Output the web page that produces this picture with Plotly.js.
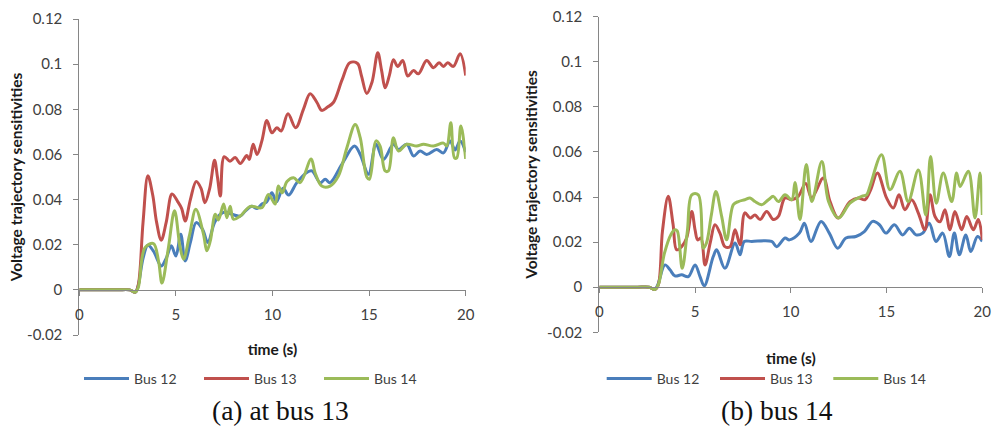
<!DOCTYPE html>
<html>
<head>
<meta charset="utf-8">
<script src="https://cdn.plot.ly/plotly-3.0.1.min.js"></script>
<style>html,body{margin:0;padding:0;background:#fff;}#chart{width:992px;height:428px;}</style>
</head>
<body>
<div id="chart"></div>
<script>
// ---- Data ----
var seriesNames = ["Bus 12", "Bus 13", "Bus 14"];
var seriesColors = ["#4A7EBB", "#C0504D", "#9BBB59"];
var xTickVals = [0, 5, 10, 15, 20];
var yTickVals = [-0.02, 0, 0.02, 0.04, 0.06, 0.08, 0.1, 0.12];
var yTickText = ["-0.02", "0", "0.02", "0.04", "0.06", "0.08", "0.1", "0.12"];
var panelCaptions = ["(a) at bus 13", "(b) bus 14"];
var xTitleText = "time (s)";
var yTitleText = "Voltage trajectory sensitivities";

// Panel (a): at bus 13
var tA12 = [0,1,2,2.6,2.9,3.05,3.3,3.55,3.85,4.24,4.5,4.76,5.0,5.25,5.48,5.75,6.05,6.38,6.65,7.0,7.3,7.55,7.9,8.33,8.6,8.93,9.2,9.45,9.7,9.97,10.2,10.55,10.83,11.26,11.78,12.04,12.47,12.73,12.98,13.59,14.24,14.54,14.97,15.36,15.74,16.26,16.52,16.95,17.3,17.64,17.98,18.5,18.85,19.19,19.45,19.71,20];
var vA12 = [0,0,0,0,-0.001,0.002,0.014,0.0198,0.017,0.0106,0.014,0.0195,0.015,0.0246,0.0128,0.021,0.0298,0.0268,0.021,0.0298,0.0335,0.0345,0.0335,0.0327,0.035,0.037,0.036,0.038,0.039,0.043,0.039,0.045,0.042,0.0475,0.052,0.0527,0.0475,0.049,0.0475,0.0556,0.0637,0.060,0.0512,0.0645,0.0578,0.0645,0.0622,0.0645,0.0593,0.0615,0.060,0.0622,0.0607,0.066,0.062,0.066,0.061];

var tA13 = [0,1,2,2.6,2.9,3.05,3.3,3.55,3.8,4.0,4.24,4.5,4.8,5.1,5.3,5.48,5.75,6.05,6.3,6.5,6.75,7.0,7.15,7.3,7.5,7.8,8.07,8.33,8.67,8.8,9.0,9.2,9.45,9.71,9.97,10.23,10.45,10.8,11.2,11.6,11.95,12.3,12.55,12.85,13.15,13.6,14.0,14.4,14.6,14.88,15.15,15.45,15.65,15.83,16.05,16.26,16.48,16.74,17.0,17.3,17.55,17.98,18.33,18.62,18.85,19.07,19.36,19.71,20];
var vA13 = [0,0,0,0,-0.001,0.002,0.03,0.0505,0.042,0.03,0.022,0.03,0.0425,0.039,0.036,0.0305,0.04,0.048,0.045,0.0386,0.045,0.0574,0.05,0.0416,0.059,0.057,0.0586,0.056,0.0595,0.0578,0.0645,0.06,0.066,0.075,0.0696,0.0718,0.0704,0.078,0.0718,0.08,0.0869,0.083,0.0795,0.081,0.083,0.093,0.1006,0.1003,0.095,0.087,0.092,0.105,0.097,0.0895,0.095,0.102,0.099,0.1016,0.0947,0.0972,0.0957,0.1016,0.0984,0.1006,0.099,0.1006,0.099,0.1046,0.095];

var tA14 = [0,1,2,2.6,2.9,3.05,3.4,3.84,4.1,4.28,4.6,4.93,5.22,5.4,5.7,6.03,6.43,6.6,6.78,7.04,7.2,7.47,7.64,7.81,7.98,8.33,8.85,9.45,9.79,10.14,10.3,10.5,10.75,11.09,11.43,12.0,12.2,12.55,12.98,13.41,13.85,14.28,14.54,14.88,15.02,15.36,15.57,15.83,16.0,16.26,16.52,16.95,17.46,17.81,18.33,18.85,19.02,19.23,19.42,19.54,19.75,20];
var vA14 = [0,0,0,0,-0.001,0.001,0.0187,0.0205,0.0128,0.003,0.018,0.035,0.0187,0.0136,0.024,0.0357,0.0246,0.0173,0.0217,0.0335,0.031,0.038,0.032,0.037,0.0313,0.0327,0.037,0.0364,0.0423,0.038,0.046,0.043,0.048,0.0497,0.0475,0.058,0.052,0.046,0.046,0.0504,0.063,0.0733,0.0674,0.050,0.049,0.066,0.0637,0.0527,0.0527,0.0674,0.0615,0.0645,0.0637,0.0645,0.0637,0.065,0.0637,0.074,0.0585,0.0585,0.0726,0.058];

// Panel (b): bus 14
var tB12 = [0,1,2,2.6,2.9,3.05,3.43,3.69,3.95,4.3,4.65,5.0,5.26,5.48,5.95,6.13,6.56,7.09,7.35,7.57,7.96,9.0,9.26,9.7,9.93,10.45,10.71,11.05,11.58,12.01,12.45,12.88,13.4,13.84,14.28,14.63,14.97,15.41,15.84,16.19,16.54,16.89,17.23,17.58,17.93,18.28,18.54,18.8,19.14,19.4,19.75,20];
var vB12 = [0,0,0,0,-0.001,0.001,0.0099,0.0077,0.005,0.0055,0.0047,0.0099,0.0047,0.0006,0.0136,0.0166,0.0084,0.0196,0.0144,0.0203,0.0203,0.0203,0.018,0.0218,0.021,0.024,0.0284,0.0203,0.0292,0.024,0.0173,0.0218,0.0225,0.0247,0.0292,0.0277,0.024,0.0277,0.0232,0.0262,0.0232,0.024,0.0284,0.0203,0.024,0.0136,0.024,0.0144,0.0232,0.0158,0.0225,0.0203];

var tB13 = [0,1,2,2.6,2.9,3.08,3.3,3.6,3.85,4.04,4.3,4.56,4.83,5.0,5.14,5.31,5.52,5.8,6.04,6.3,6.56,6.83,7.09,7.35,7.6,7.87,8.13,8.4,8.74,9.09,9.35,9.7,10.05,10.39,10.78,11.09,11.7,12.05,12.48,13.09,13.53,13.87,14.17,14.52,15.0,15.35,15.65,15.96,16.31,16.66,17.0,17.27,17.53,17.79,18.05,18.31,18.57,18.92,19.19,19.53,19.79,20];
var vB13 = [0,0,0,0,-0.001,0.001,0.025,0.0403,0.028,0.0166,0.018,0.0218,0.0336,0.0255,0.021,0.0218,0.0099,0.02,0.0277,0.024,0.018,0.018,0.0255,0.0188,0.033,0.0307,0.032,0.03,0.0336,0.03,0.0314,0.0396,0.0388,0.0403,0.046,0.0396,0.0484,0.038,0.0307,0.038,0.0396,0.0388,0.0432,0.0507,0.0396,0.0351,0.041,0.0344,0.0388,0.0329,0.0255,0.041,0.0314,0.029,0.0344,0.0255,0.0336,0.0255,0.0314,0.0255,0.03,0.021];

var tB14 = [0,1,2,2.6,2.9,3.08,3.4,3.75,3.95,4.07,4.33,4.6,4.83,5.17,5.43,5.6,5.85,6.09,6.39,6.65,7.0,7.26,7.6,7.87,8.13,8.48,8.83,9.09,9.35,9.7,10.05,10.22,10.48,10.81,11.1,11.62,11.97,12.49,13.09,13.7,13.96,14.13,14.74,15.18,15.7,16.13,16.66,17.05,17.3,17.6,17.96,18.4,18.66,18.84,19.27,19.62,19.88,20];
var vB14 = [0,0,0,0,-0.001,0.001,0.015,0.0235,0.0255,0.025,0.0084,0.025,0.041,0.041,0.0173,0.0197,0.032,0.0425,0.0314,0.021,0.0366,0.038,0.0388,0.0396,0.038,0.0366,0.0388,0.0403,0.038,0.041,0.0388,0.0465,0.03,0.0544,0.038,0.0558,0.038,0.0307,0.0373,0.0403,0.041,0.0447,0.0588,0.0432,0.0514,0.038,0.052,0.032,0.058,0.0373,0.0507,0.038,0.0507,0.0447,0.0514,0.0307,0.0507,0.032];

// ---- Build traces ----
var W = 992, H = 428;
var tickFont = {family: "Lato, 'Liberation Sans', sans-serif", size: 15, color: "#404040"};
var titleFont = {family: "Lato, 'Liberation Sans', sans-serif", size: 15.5, color: "#1a1a1a", weight: "bold"};
var axisGray = "#868686";

function mk(t, v, i, xa, ya, lg) {
  return {
    x: t, y: v, type: "scatter", mode: "lines",
    name: seriesNames[i], legend: lg, xaxis: xa, yaxis: ya,
    line: {color: seriesColors[i], width: 3, shape: "spline", smoothing: 1},
    hoverinfo: "skip"
  };
}
var traces = [
  mk(tA12, vA12, 0, "x", "y", "legend"),
  mk(tA13, vA13, 1, "x", "y", "legend"),
  mk(tA14, vA14, 2, "x", "y", "legend"),
  mk(tB12, vB12, 0, "x2", "y2", "legend2"),
  mk(tB13, vB13, 1, "x2", "y2", "legend2"),
  mk(tB14, vB14, 2, "x2", "y2", "legend2")
];

var yRange = [-0.02, 0.12];
var xDomA = [79.3 / W, 465.7 / W], yDomA = [1 - 335 / H, 1 - 19 / H];
var xDomB = [599.3 / W, 982.3 / W], yDomB = [1 - 332.3 / H, 1 - 16.7 / H];
function zeroPos(dom) { return dom[0] + (0 - yRange[0]) / (yRange[1] - yRange[0]) * (dom[1] - dom[0]); }

function xAxis(dom, yDom, standoff) {
  return {
    domain: dom, range: [0, 20], anchor: "free", position: zeroPos(yDom),
    showline: true, linecolor: axisGray, linewidth: 1,
    ticks: "outside", ticklen: 5, tickcolor: axisGray, tickwidth: 1,
    tickvals: xTickVals, tickfont: tickFont, ticklabelstandoff: 6,
    showgrid: false, zeroline: false, automargin: false, fixedrange: true,
    title: {text: xTitleText, font: titleFont, standoff: standoff}
  };
}
function yAxis(dom, xName, standoff) {
  return {
    domain: dom, range: yRange, anchor: xName,
    showline: true, linecolor: axisGray, linewidth: 1,
    ticks: "outside", ticklen: 5, tickcolor: axisGray, tickwidth: 1,
    tickvals: yTickVals, ticktext: yTickText, tickfont: tickFont, ticklabelstandoff: 8,
    showgrid: false, zeroline: false, automargin: false, fixedrange: true,
    title: {text: yTitleText, font: titleFont, standoff: standoff}
  };
}

function legendAt(xpx, ew) {
  return {
    orientation: "h", x: xpx / W, y: 1 - 379 / H, xanchor: "left", yanchor: "middle",
    entrywidth: ew, entrywidthmode: "pixels", itemwidth: 45,
    font: {family: "Lato, 'Liberation Sans', sans-serif", size: 14, color: "#404040"},
    bgcolor: "rgba(0,0,0,0)", borderwidth: 0, itemclick: false, itemdoubleclick: false
  };
}

var captionFont = {family: "'Liberation Serif', 'Times New Roman', serif", size: 27.5, color: "#111"};
var layout = {
  width: W, height: H,
  margin: {l: 0, r: 0, t: 0, b: 0, autoexpand: false},
  paper_bgcolor: "#fff", plot_bgcolor: "#fff",
  showlegend: true,
  xaxis: xAxis(xDomA, yDomA, 22),
  yaxis: yAxis(yDomA, "x", 0),
  xaxis2: xAxis(xDomB, yDomB, 33),
  yaxis2: yAxis(yDomB, "x2", 5),
  legend: legendAt(79, 60),
  legend2: legendAt(601.7, 53.3),
  annotations: [
    {text: panelCaptions[0], x: 280 / W, y: 1 - 410 / H, xref: "paper", yref: "paper", xanchor: "center", yanchor: "middle", showarrow: false, font: captionFont},
    {text: panelCaptions[1], x: 777 / W, y: 1 - 410 / H, xref: "paper", yref: "paper", xanchor: "center", yanchor: "middle", showarrow: false, font: captionFont}
  ]
};

Plotly.newPlot("chart", traces, layout, {staticPlot: true, displayModeBar: false});
</script>
</body>
</html>
